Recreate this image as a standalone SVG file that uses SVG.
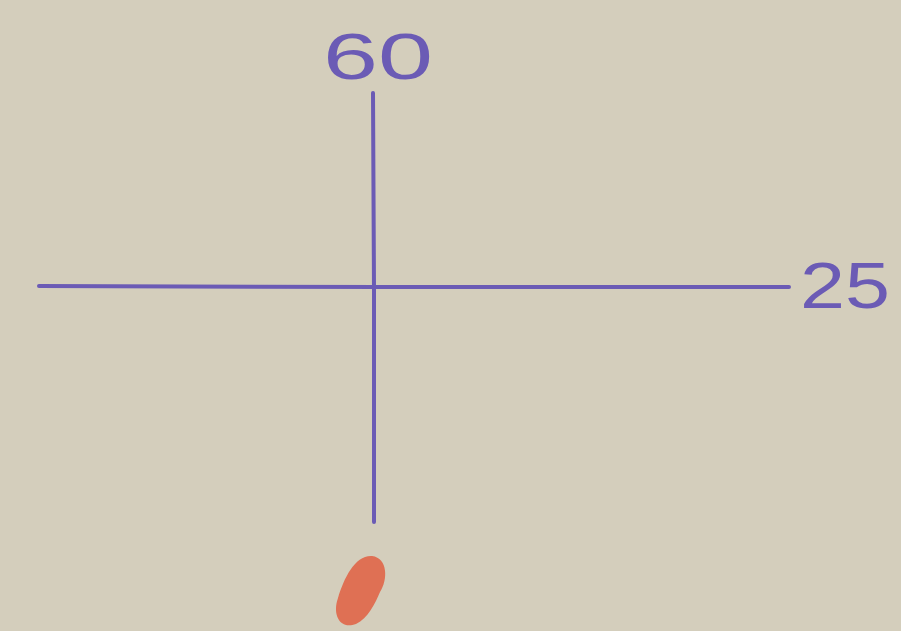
<svg xmlns="http://www.w3.org/2000/svg" width="901" height="631" viewBox="0 0 901 631">
<style>
.ax{stroke:#6b5bb5;stroke-width:4;stroke-linecap:round;fill:none}
.lb{font-family:"Liberation Sans",Arial,sans-serif;fill:#6b5bb5;font-size:64px}
</style>
<rect width="901" height="631" fill="#d4cebc"/>
<g id="connectors">
<path class="ax" d="M373 93 L374 290 L374 522"/>
<path class="ax" d="M39 286 L380 287 L789 287"/>
</g>
<g id="label-60"><text class="lb" x="323" y="79" textLength="110" lengthAdjust="spacingAndGlyphs">60</text></g>
<g id="label-25"><text class="lb" x="800" y="308" textLength="90" lengthAdjust="spacingAndGlyphs">25</text></g>
<g id="red-mark"><path d="M372 556 C388 558 388 580 380 592 C375 604 368 618 356 624 C340 630 332 615 338 598 C344 578 355 555 372 556 Z" fill="#df6a4e" opacity="0.95"/></g>
</svg>
